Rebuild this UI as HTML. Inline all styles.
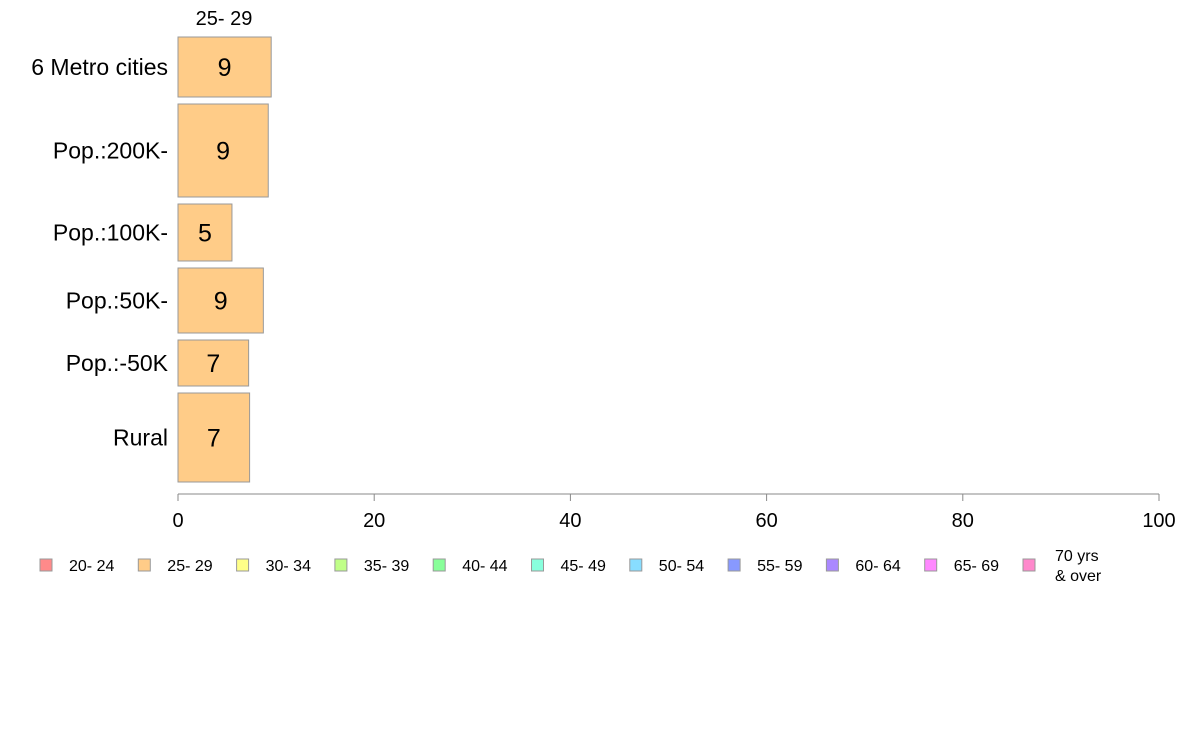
<!DOCTYPE html>
<html><head><meta charset="utf-8"><style>
body{margin:0;background:#fff;width:1188px;height:736px;overflow:hidden}
svg text{font-family:"Liberation Sans",sans-serif}
</style></head><body>
<svg id="chart" width="1188" height="736"></svg>
<script>
const categories=["6 Metro cities","Pop.:200K-","Pop.:100K-","Pop.:50K-","Pop.:-50K","Rural"];
const values=[9.5,9.2,5.5,8.7,7.2,7.3];
const labels=["9","9","5","9","7","7"];
const rowWeights=[60,93,57,65,46,89];
const xTicks=[0,20,40,60,80,100];
const legendLabels=["20- 24","25- 29","30- 34","35- 39","40- 44","45- 49","50- 54","55- 59","60- 64","65- 69","70 yrs|& over"];
const legendColors=["#ff8a8a","#ffcc88","#ffff88","#c0ff88","#88ff99","#88ffdd","#88ddff","#8899ff","#aa88ff","#ff88ff","#ff88cc"];
const NS="http://www.w3.org/2000/svg";
const svg=document.getElementById("chart");
function el(t,a,txt){const e=document.createElementNS(NS,t);for(const k in a)e.setAttribute(k,a[k]);if(txt!=null)e.textContent=txt;svg.appendChild(e);return e;}
const x0=178,x1=1159;
const xs=v=>x0+(v/100)*(x1-x0);
const plotTop=37,plotBottom=482,gap=7;
const totalW=rowWeights.reduce((a,b)=>a+b,0);
const unit=(plotBottom-plotTop-gap*(categories.length-1))/totalW;
const h=el("text",{x:224,y:25,"font-size":20,"text-anchor":"middle"},"25- 29");


let yy=plotTop;
categories.forEach((c,i)=>{
  const hh=rowWeights[i]*unit;
  const r=el("rect",{x:x0,y:yy,width:xs(values[i])-x0,height:hh,fill:"#ffcc88",stroke:"#999","stroke-width":1});
  
  
  const v=el("text",{x:(x0+xs(values[i]))/2,y:yy+hh/2+9,"font-size":25,"text-anchor":"middle"},labels[i]);
  
  
  const l=el("text",{x:168,y:yy+hh/2+8,"font-size":23,"text-anchor":"end"},c);
  
  
  yy+=hh+gap;
});
const ax=el("line",{x1:x0,y1:494,x2:x1,y2:494,stroke:"#888","stroke-width":1});


xTicks.forEach(t=>{
  const tk=el("line",{x1:xs(t),y1:494,x2:xs(t),y2:501,stroke:"#888","stroke-width":1});
  
  
  const tl=el("text",{x:xs(t),y:527,"font-size":20,"text-anchor":"middle"},String(t));
  
  
});
legendLabels.forEach((lb,i)=>{
  const lx=40+i*98.3;
  const s=el("rect",{x:lx,y:559,width:12,height:12,fill:legendColors[i],stroke:"#999","stroke-width":1});
  
  
  const parts=lb.split("|");
  if(parts.length===1){
    const t=el("text",{x:lx+29,y:571,"font-size":16},lb);
    
    
  }else{
    parts.forEach((p,j)=>{
      const t=el("text",{x:lx+32,y:561+j*20,"font-size":16},p);
      
      
    });
  }
});
</script>
</body></html>
